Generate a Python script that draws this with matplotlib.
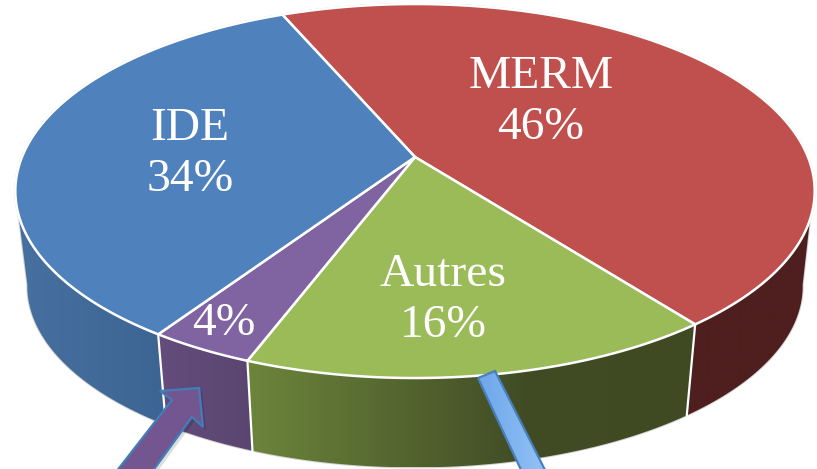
import numpy as np
import matplotlib
matplotlib.use("Agg")
import matplotlib.pyplot as plt
from matplotlib.patches import Polygon
from matplotlib.colors import LinearSegmentedColormap

# data
categories = ["MERM", "Autres", "", "IDE"]
values = [46, 16.2, 3.6, 34.2]
labels = ["MERM\n46%", "Autres\n16%", "4%", "IDE\n34%"]
top_colors = ["#c0504d", "#9bbb59", "#8064a2", "#4f81bd"]
side_left = ["#4e1f1e", "#6c853b", "#644c7c", "#46709f"]
side_right = ["#4e1f1e", "#3f4a23", "#5a4570", "#3d6594"]
label_xy = [(541, 102), (443, 300), (224, 324), (190, 154)]

# projection of the tilted disc
CX, CY, A, B, K = 415, 157, 393, 180.8, 0.182
DEPTH, SHRINK = 96, 0.97
START = -23.2


def top(t):
    t = np.radians(t)
    u, v = np.sin(t), -np.cos(t)
    w = 1 - K * v
    return CX + A * u / w, CY + B * v / w


def low(t):
    x, y = top(t)
    return CX + SHRINK * (x - CX), CY + DEPTH + SHRINK * (y - CY)


fig = plt.figure(figsize=(8.17, 4.69), dpi=100)
ax = fig.add_axes([0, 0, 1, 1])
ax.set_xlim(0, 817)
ax.set_ylim(469, 0)
ax.axis("off")

edges = START + np.cumsum([0] + values) * 360 / sum(values)

# outer grey hairline of the silhouette
ts = np.linspace(0, 360, 400)
ax.add_patch(Polygon(np.c_[top(ts)], fc="none", ec="#d0d0d0", lw=1.4, zorder=1))
lt = np.linspace(100, 260, 200)
tt = np.linspace(252.5, 109 + 360, 400)
ax.add_patch(Polygon(np.r_[np.c_[low(lt)], np.c_[top(tt)]], fc="none", ec="#d0d0d0", lw=1.4, zorder=1))

# sides
for i, (a, b) in enumerate(zip(edges[:-1], edges[1:])):
    ta, tb = a, b
    la, lb = a, b
    if i == 0:      # red: visible only from its front part
        ta, la = 109, 100
    if i == 3:      # blue: ends at the left silhouette
        tb, lb = 252.5, 260
    t_arc = np.linspace(ta, tb, 120)
    l_arc = np.linspace(lb, la, 120)
    poly = np.r_[np.c_[top(t_arc)], np.c_[low(l_arc)]]
    p = Polygon(poly, fc="none", ec="none", zorder=2)
    ax.add_patch(p)
    x0, x1 = poly[:, 0].min(), poly[:, 0].max()
    y0, y1 = poly[:, 1].min(), poly[:, 1].max()
    if i == 1:
        stops = [(0, side_left[i]), (0.62, "#414c25"), (1, side_right[i])]
    else:
        stops = [(0, side_left[i]), (1, side_right[i])]
    cmap = LinearSegmentedColormap.from_list("s", stops)
    grad = np.linspace(0, 1, 256)[None, :]
    im = ax.imshow(grad, extent=[x0, x1, y1, y0], cmap=cmap, aspect="auto", zorder=2)
    im.set_clip_path(p)

ax.set_xlim(0, 817)
ax.set_ylim(469, 0)

# white seams on the side
for e in edges[1:4]:
    x_t, y_t = top(e)
    x_l, y_l = low(e)
    ax.plot([x_t, x_l], [y_t, y_l], color="white", lw=1.6, zorder=3)

# top face
for i, (a, b) in enumerate(zip(edges[:-1], edges[1:])):
    arc = np.linspace(a, b, 200)
    poly = np.r_[[[CX, CY]], np.c_[top(arc)]]
    ax.add_patch(Polygon(poly, fc=top_colors[i], ec="white", lw=1.8, joinstyle="round", zorder=4))

# labels
for s, (x, y) in zip(labels, label_xy):
    ax.text(x, y, s, color="white", family="Liberation Serif", fontsize=34.2,
            ha="center", va="center", linespacing=1.27, zorder=6)

# arrows
purple_arrow = [(116, 472), (172, 400), (160, 391), (199, 388), (203, 427), (192, 417), (152, 472)]
blue_arrow = [(478, 378), (495, 371), (546, 472), (522, 472)]
ax.add_patch(Polygon(np.array(purple_arrow) + [3, 3], fc="#00000022", ec="none", zorder=5))
ax.add_patch(Polygon(purple_arrow, fc="#73568f", ec="#3f7fb9", lw=1.6, zorder=5.5))
bp = Polygon(blue_arrow, fc="none", ec="none", zorder=5.5)
ax.add_patch(bp)
bim = ax.imshow(np.linspace(0, 1, 64)[None, :], extent=[478, 546, 472, 371],
                cmap=LinearSegmentedColormap.from_list("b", ["#6ea6ea", "#92c2f6"]),
                aspect="auto", zorder=5.5)
bim.set_clip_path(bp)
ax.add_patch(Polygon(blue_arrow, fc="none", ec="#4a80ba", lw=1.6, zorder=5.6))
ax.set_xlim(0, 817)
ax.set_ylim(469, 0)

fig.savefig("out.png", dpi=100)
